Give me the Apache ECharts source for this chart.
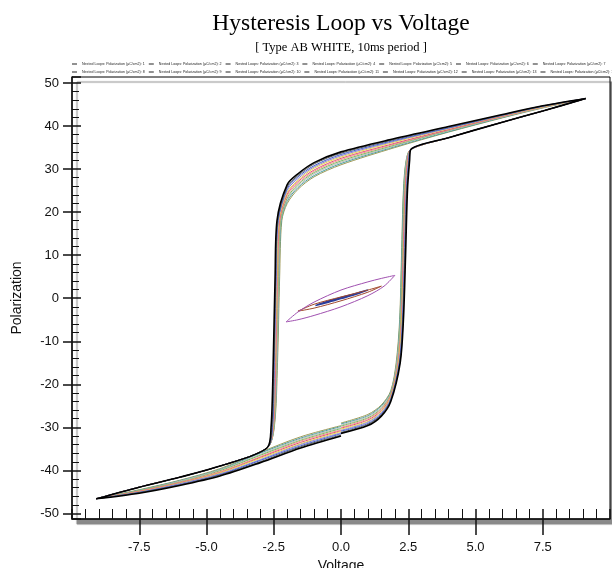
<!DOCTYPE html>
<html lang="en">
<head>
    <meta charset="UTF-8">
    <title>Hysteresis Loop vs Voltage</title>
    <script src="https://cdn.jsdelivr.net/npm/echarts@6/dist/echarts.min.js"></script>
    <style>
        body { margin: 0; background: #fff; }
    </style>
</head>
<body>
    <div id="myCharts" style="width: 612px;height:568px;"></div>

    <script type="text/javascript">
        // legend names 1..14
        var loopNames = [];
        for (var n = 1; n <= 14; n++) loopNames.push('Nested Loops: Polarization (µC/cm2): ' + n);

        var loopColors = ['#2b3c9a', '#a0482c', '#a050b0',
            '#a09a58', '#4aa0a0', '#b8b8b8', '#78bc60', '#f09a8c', '#e2507a',
            '#e6dc48', '#9080d0', '#4062c8', '#5a5a5a', '#000000'];

        // small inner loops (series 1-3), [voltage, polarization]
        var loop1 = [[-0.95, -1.7], [-0.5, -1.0], [0, -0.1], [0.5, 0.8], [1.0, 1.9], [0.5, 1.0], [0, 0.2], [-0.5, -0.7], [-0.95, -1.7]];
        var loop2 = [[-1.6, -3.0], [-1.0, -2.3], [0, -0.6], [1.0, 1.4], [1.5, 2.8], [1.0, 1.9], [0, 0.3], [-1.0, -1.4], [-1.6, -3.0]];
        var loop3 = [[-2.04, -5.5], [-1.6, -5.0], [-1.0, -4.0], [0, -2.0], [1.0, 0.6], [1.6, 2.8], [2.0, 5.3],
            [1.5, 4.6], [1.0, 3.8], [0, 1.9], [-1.0, -0.9], [-1.6, -3.2], [-2.04, -5.5]];

        // saturated loops (series 4-14): shared tips
        var tipUp = [[2.6, 34.6], [4, 37.3], [6, 40.9], [7.5, 43.5], [9.1, 46.4]];
        var tipDown = [[-2.75, -34.8], [-4.5, -39.0], [-6, -41.6], [-7.5, -43.9], [-9.1, -46.6]];

        // start branch (lower right), y at these voltages
        var startX = [0, 1, 1.5, 1.85];
        var startY = [
            [-29.0, -27.0, -24.8, -21.5],
            [-29.2, -27.3, -25.0, -21.8],
            [-29.5, -27.5, -25.3, -22.0],
            [-29.7, -27.8, -25.6, -22.3],
            [-30.0, -28.0, -25.8, -22.5],
            [-30.2, -28.3, -26.1, -22.8],
            [-30.4, -28.6, -26.3, -23.0],
            [-30.7, -28.8, -26.6, -23.3],
            [-30.9, -29.1, -26.9, -23.5],
            [-31.2, -29.3, -27.1, -23.8],
            [-31.4, -29.6, -27.4, -24.0]
        ];
        // right switching, voltage at these polarizations
        var riseY = [-15, -5, 10, 25, 32];
        var riseX = [
            [2.05, 2.18, 2.25, 2.32, 2.42],
            [2.07, 2.19, 2.26, 2.33, 2.43],
            [2.08, 2.21, 2.28, 2.35, 2.44],
            [2.10, 2.22, 2.29, 2.36, 2.46],
            [2.11, 2.24, 2.31, 2.38, 2.47],
            [2.13, 2.25, 2.32, 2.39, 2.48],
            [2.14, 2.26, 2.34, 2.41, 2.50],
            [2.16, 2.28, 2.35, 2.42, 2.51],
            [2.17, 2.29, 2.37, 2.44, 2.52],
            [2.19, 2.31, 2.38, 2.45, 2.54],
            [2.20, 2.32, 2.40, 2.47, 2.55]
        ];
        // upper branch coming back down
        var downX = [7.5, 6, 4, 2, 0, -1, -1.6, -2.0];
        var downY = [
            [44.2, 41.9, 38.6, 35.0, 31.0, 28.2, 25.3, 22.0],
            [44.3, 42.0, 38.7, 35.2, 31.3, 28.5, 25.7, 22.5],
            [44.3, 42.1, 38.9, 35.4, 31.6, 28.9, 26.0, 22.9],
            [44.4, 42.2, 39.0, 35.6, 31.9, 29.2, 26.4, 23.3],
            [44.4, 42.2, 39.1, 35.8, 32.2, 29.5, 26.7, 23.8],
            [44.5, 42.3, 39.2, 36.0, 32.5, 29.8, 27.1, 24.2],
            [44.5, 42.4, 39.4, 36.3, 32.8, 30.2, 27.4, 24.6],
            [44.6, 42.5, 39.5, 36.5, 33.1, 30.5, 27.8, 25.1],
            [44.6, 42.5, 39.6, 36.7, 33.4, 30.8, 28.2, 25.5],
            [44.7, 42.6, 39.8, 36.9, 33.7, 31.2, 28.5, 25.9],
            [44.7, 42.7, 39.9, 37.1, 34.0, 31.5, 28.9, 26.4]
        ];
        // left switching
        var fallY = [18, 5, -15, -30];
        var fallX = [
            [-2.20, -2.28, -2.36, -2.48],
            [-2.22, -2.30, -2.38, -2.49],
            [-2.24, -2.31, -2.39, -2.50],
            [-2.25, -2.33, -2.41, -2.50],
            [-2.27, -2.35, -2.42, -2.51],
            [-2.29, -2.37, -2.44, -2.52],
            [-2.31, -2.38, -2.46, -2.53],
            [-2.33, -2.40, -2.47, -2.54],
            [-2.34, -2.42, -2.49, -2.55],
            [-2.36, -2.43, -2.50, -2.57],
            [-2.38, -2.45, -2.52, -2.60]
        ];
        // return branch from negative tip to 0 V
        var backX = [-7.5, -6, -4.5, -3, -1.5, 0];
        var backY = [
            [-44.5, -42.3, -39.6, -35.8, -32.2, -29.6],
            [-44.6, -42.4, -39.8, -36.0, -32.5, -29.8],
            [-44.7, -42.5, -39.9, -36.3, -32.7, -30.1],
            [-44.7, -42.7, -40.1, -36.5, -33.0, -30.3],
            [-44.8, -42.8, -40.3, -36.8, -33.2, -30.6],
            [-44.9, -42.9, -40.5, -37.0, -33.5, -30.8],
            [-45.0, -43.0, -40.6, -37.2, -33.8, -31.0],
            [-45.1, -43.1, -40.8, -37.5, -34.0, -31.3],
            [-45.1, -43.3, -41.0, -37.7, -34.3, -31.5],
            [-45.2, -43.4, -41.1, -38.0, -34.5, -31.8],
            [-45.3, -43.5, -41.3, -38.2, -34.8, -32.0]
        ];

        function buildLoop(k) {
            var pts = [];
            startX.forEach(function (x, i) { pts.push([x, startY[k][i]]) });
            riseY.forEach(function (y, i) { pts.push([riseX[k][i], y]) });
            tipUp.forEach(function (p) { pts.push(p) });
            downX.forEach(function (x, i) { pts.push([x, downY[k][i]]) });
            fallY.forEach(function (y, i) { pts.push([fallX[k][i], y]) });
            tipDown.forEach(function (p) { pts.push(p) });
            backX.forEach(function (x, i) { pts.push([x, backY[k][i]]) });
            return pts;
        }

        var loopData = [loop1, loop2, loop3];
        for (var k = 0; k < startY.length; k++) loopData.push(buildLoop(k));

        var myChart = echarts.init(document.getElementById('myCharts'));
        var series = loopData.map(function (d, i) {
            return {
                name: loopNames[i],
                type: 'line',
                xAxisIndex: 0,
                yAxisIndex: 0,
                smooth: 0.3,
                showSymbol: false,
                symbol: 'none',
                lineStyle: { width: i === 13 ? 1.6 : (i === 0 ? 1.4 : 1), color: loopColors[i] },
                itemStyle: { color: loopColors[i] },
                data: d
            }
        });

        var legendBase = {
            left: 72,
            width: 560,
            itemWidth: 5,
            itemHeight: 1,
            itemGap: 4,
            padding: 0,
            icon: 'rect',
            itemStyle: { color: '#222' },
            selectedMode: false,
            textStyle: { fontSize: 3.6, color: '#222', fontFamily: 'Liberation Sans' }
        };

        // plot frame: x -10..10 over 538 px, y -51.3..51.4 over 442 px
        var tickColor = '#111';
        var hiddenAxis = {
            type: 'value', show: false, axisLine: { show: false, onZero: false },
            axisTick: { show: false }, axisLabel: { show: false }, splitLine: { show: false }
        };

        var option = {
            animation: false,
            backgroundColor: '#fff',
            title: {
                text: 'Hysteresis Loop vs Voltage',
                subtext: '[ Type AB WHITE, 10ms period ]',
                left: 341,
                top: 12,
                textAlign: 'center',
                itemGap: 5,
                padding: 0,
                textStyle: { fontFamily: 'Liberation Serif', fontWeight: 'normal', fontSize: 23.5, color: '#000' },
                subtextStyle: { fontFamily: 'Liberation Serif', fontSize: 12.5, color: '#000' }
            },
            legend: [
                Object.assign({}, legendBase, { top: 62, data: loopNames.slice(0, 7) }),
                Object.assign({}, legendBase, { top: 70, data: loopNames.slice(7, 14) })
            ],
            grid: [
                {
                    show: true,
                    left: 72,
                    right: 2,
                    top: 77,
                    bottom: 49,
                    containLabel: false,
                    outerBoundsMode: 'none',
                    backgroundColor: '#fff',
                    borderColor: '#000',
                    borderWidth: 1,
                    shadowColor: '#8a8a8a',
                    shadowBlur: 1,
                    shadowOffsetX: 5,
                    shadowOffsetY: 5
                },
                // overlay for outside x major ticks (-7.5 .. 7.5)
                { left: 139.25, right: 69.25, top: 77, bottom: 49, containLabel: false, outerBoundsMode: 'none' },
                // overlay for outside y major ticks (-50 .. 50)
                { left: 72, right: 2, top: 83.03, bottom: 54.6, containLabel: false, outerBoundsMode: 'none' }
            ],
            xAxis: [
                {
                    type: 'value',
                    gridIndex: 0,
                    min: -10,
                    max: 10,
                    interval: 2.5,
                    name: 'Voltage',
                    nameLocation: 'middle',
                    nameGap: 33,
                    nameTextStyle: { fontFamily: 'Liberation Sans', fontSize: 14, color: tickColor },
                    axisLine: { show: true, onZero: false, lineStyle: { color: tickColor, width: 1.5 } },
                    axisTick: { show: true, inside: true, length: 10, lineStyle: { color: tickColor, width: 1.5 } },
                    minorTick: { show: true, splitNumber: 5, length: 10, lineStyle: { color: tickColor, width: 1 } },
                    axisLabel: {
                        margin: 22, showMinLabel: false, showMaxLabel: false,
                        fontFamily: 'Liberation Sans', fontSize: 13, color: tickColor,
                        formatter: function (v) { return v.toFixed(1) }
                    },
                    splitLine: { show: false }
                },
                {
                    type: 'value',
                    gridIndex: 1,
                    position: 'bottom',
                    min: -7.5,
                    max: 7.5,
                    interval: 2.5,
                    axisLine: { show: false, onZero: false },
                    axisTick: { show: true, inside: false, length: 16, lineStyle: { color: tickColor, width: 1.5 } },
                    axisLabel: { show: false },
                    splitLine: { show: false }
                },
                Object.assign({}, hiddenAxis, { gridIndex: 2, min: 0, max: 1 })
            ],
            yAxis: [
                {
                    type: 'value',
                    gridIndex: 0,
                    min: -51.3,
                    max: 51.4,
                    splitNumber: 10,
                    name: 'Polarization',
                    nameLocation: 'middle',
                    nameGap: 48,
                    nameTextStyle: { fontFamily: 'Liberation Sans', fontSize: 14, color: tickColor },
                    axisLine: { show: true, onZero: false, lineStyle: { color: tickColor, width: 1.5 } },
                    axisTick: { show: true, inside: true, length: 9, lineStyle: { color: tickColor, width: 1.5 } },
                    minorTick: { show: true, splitNumber: 5, length: 7, lineStyle: { color: tickColor, width: 1 } },
                    axisLabel: {
                        margin: 13, showMinLabel: false, showMaxLabel: false,
                        fontFamily: 'Liberation Sans', fontSize: 13, color: tickColor
                    },
                    splitLine: { show: false }
                },
                Object.assign({}, hiddenAxis, { gridIndex: 1, min: 0, max: 1 }),
                {
                    type: 'value',
                    gridIndex: 2,
                    position: 'left',
                    min: -50,
                    max: 50,
                    interval: 10,
                    axisLine: { show: false, onZero: false },
                    axisTick: { show: true, inside: false, length: 9, lineStyle: { color: tickColor, width: 1.5 } },
                    axisLabel: { show: false },
                    splitLine: { show: false }
                }
            ],
            series: series
        };

        myChart.setOption(option, true)
    </script>
</body>
</html>
